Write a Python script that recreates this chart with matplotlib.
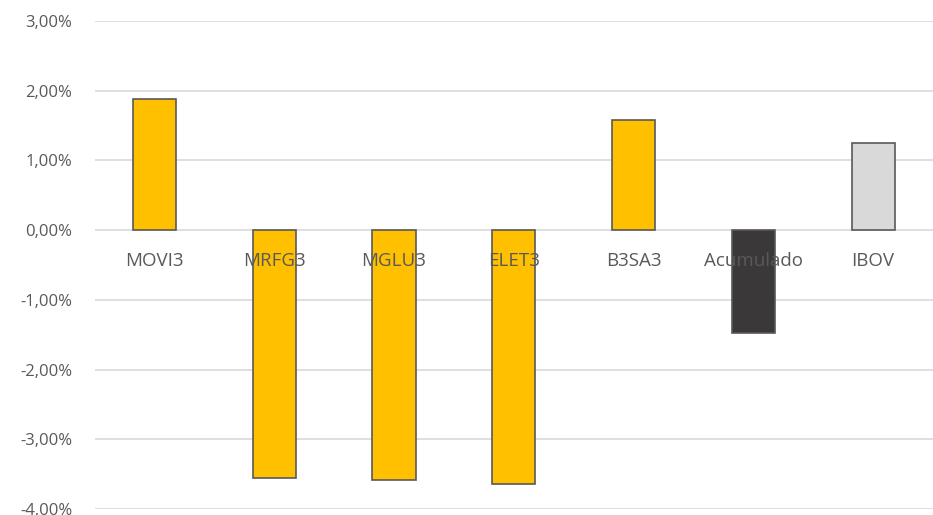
import matplotlib.pyplot as plt
from matplotlib.ticker import FuncFormatter

# dados
acoes = ['MOVI3', 'MRFG3', 'MGLU3', 'ELET3', 'B3SA3', 'Acumulado', 'IBOV']
retornos = [1.88, -3.56, -3.59, -3.64, 1.58, -1.47, 1.25]
cores = ['#FFC000', '#FFC000', '#FFC000', '#FFC000', '#FFC000', '#3A3838', '#D9D9D9']

fig = plt.figure(figsize=(9.33, 5.15), dpi=100)
ax = fig.add_axes([0.1013, 0.0117, 0.8987, 0.9475])

pos = list(range(len(acoes)))
ax.bar(pos, retornos, width=0.36, color=cores, edgecolor='#595959', linewidth=1.2, zorder=2)

# rótulos das categorias junto do zero
for i, nome in enumerate(acoes):
    ax.annotate(nome, xy=(i, 0), xytext=(0, -22), textcoords='offset points',
                ha='center', va='center', fontsize=13.5, color='#595959',
                family='Open Sans', zorder=5)

ax.set_ylim(-4, 3)
ax.set_xlim(-0.5, len(acoes) - 0.5)
ax.set_yticks(range(-4, 4))
ax.yaxis.set_major_formatter(FuncFormatter(lambda v, p: f'{v:.2f}%'.replace('.', ',')))
ax.set_xticks([])
ax.tick_params(axis='y', length=0, pad=16, labelsize=12, labelcolor='#595959')
for lbl in ax.get_yticklabels():
    lbl.set_family('Open Sans')

ax.grid(axis='y', color='#D9D9D9', linewidth=1.2)
ax.set_axisbelow(True)
for s in ax.spines.values():
    s.set_visible(False)

fig.savefig('out.png', dpi=100)
